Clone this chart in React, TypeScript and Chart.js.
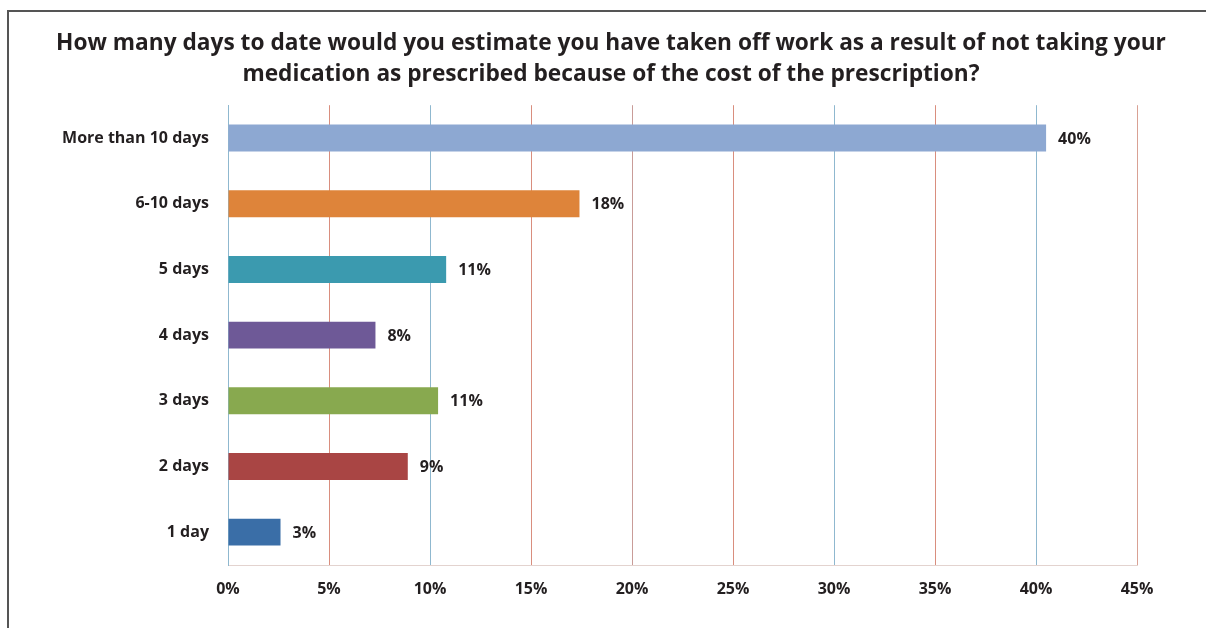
import React, { useEffect, useRef } from "react";
import { Chart, registerables } from "chart.js";

Chart.register(...registerables);

const titleLines = [
  "How many days to date would you estimate you have taken off work as a result of not taking your",
  "medication as prescribed because of the cost of the prescription?",
];
const categories = ["More than 10 days", "6-10 days", "5 days", "4 days", "3 days", "2 days", "1 day"];
const values = [40.5, 17.4, 10.8, 7.3, 10.4, 8.9, 2.6];
const valueLabels = ["40%", "18%", "11%", "8%", "11%", "9%", "3%"];
const barColors = ["#8DA8D2", "#DE843A", "#3B9AAF", "#6E5997", "#88A94F", "#A94544", "#3A6EA7"];
const xTicks = [0, 5, 10, 15, 20, 25, 30, 35, 40, 45];
const gridColors = ["#8FB8CF", "#D98E7E", "#8FB8CF", "#D98E7E", "#C99C98", "#D98E7E", "#8FB8CF", "#D98E7E", "#8FB8CF", "#D9A194"];

const FONT = "'Open Sans', 'DejaVu Sans', sans-serif";
const TEXT = "#231F20";

const valueLabelPlugin = {
  id: "valueLabels",
  afterDatasetsDraw(chart: any) {
    const ctx = chart.ctx;
    const meta = chart.getDatasetMeta(0);
    ctx.save();
    ctx.font = `bold 16px ${FONT}`;
    ctx.fillStyle = TEXT;
    ctx.textAlign = "left";
    ctx.textBaseline = "middle";
    meta.data.forEach((bar: any, i: number) => {
      ctx.fillText(valueLabels[i], bar.x + 12, bar.y + 1);
    });
    ctx.restore();
  },
};

export default function App() {
  const ref = useRef<HTMLCanvasElement>(null);
  useEffect(() => {
    if (!ref.current) return;
    const chart = new Chart(ref.current, {
      type: "bar",
      data: {
        labels: categories,
        datasets: [
          {
            data: values,
            backgroundColor: barColors,
            borderWidth: 0,
            barPercentage: 0.41,
            categoryPercentage: 1,
            xAxisID: "x",
            yAxisID: "y",
          },
        ],
      },
      options: {
        indexAxis: "y",
        animation: false,
        responsive: false,
        maintainAspectRatio: false,
        layout: { padding: { left: 16, right: 0, top: 0, bottom: 0 } },
        plugins: {
          legend: { display: false },
          tooltip: { enabled: false },
          title: {
            display: true,
            text: titleLines,
            color: TEXT,
            font: { family: FONT, size: 22.7, weight: "bold", lineHeight: 1.37 },
            padding: { top: 28, bottom: 15 },
          },
        },
        scales: {
          x: {
            min: 0,
            max: 45,
            afterBuildTicks: (s: any) => {
              s.ticks = xTicks.map((v) => ({ value: v }));
            },
            afterFit: (s: any) => {
              s.height = 63;
            },
            ticks: {
              callback: (v: any) => `${v}%`,
              color: TEXT,
              font: { family: FONT, size: 16, weight: "bold" },
              padding: 15,
              maxRotation: 0,
              autoSkip: false,
            },
            grid: {
              drawTicks: false,
              color: gridColors,
              lineWidth: 1,
            },
            border: { display: true, color: "#E3D3CF", width: 1 },
          },
          y: {
            position: "left",
            afterFit: (s: any) => {
              s.width = 212;
            },
            ticks: {
              color: TEXT,
              font: { family: FONT, size: 16, weight: "bold" },
              padding: 19,
            },
            grid: { display: false, drawTicks: false },
            border: { display: true, color: "#8FB8CF", width: 1 },
          },
          yRight: {
            type: "category",
            position: "right",
            labels: categories,
            afterFit: (s: any) => {
              s.width = 69;
            },
            ticks: { display: false },
            grid: { display: false, drawTicks: false },
            border: { display: false },
          },
        },
      },
      plugins: [valueLabelPlugin],
    });
    return () => chart.destroy();
  }, []);

  return (
    <div style={{ position: "fixed", left: 0, top: 0, width: 1206, height: 628, background: "#fff", overflow: "hidden" }}>
      <div
        style={{
          position: "absolute",
          left: 7,
          top: 10,
          width: 1300,
          height: 700,
          borderTop: "2px solid #555",
          borderLeft: "2px solid #555",
        }}
      />
      <canvas ref={ref} width={1206} height={628} style={{ position: "absolute", left: 0, top: 0 }} />
    </div>
  );
}
